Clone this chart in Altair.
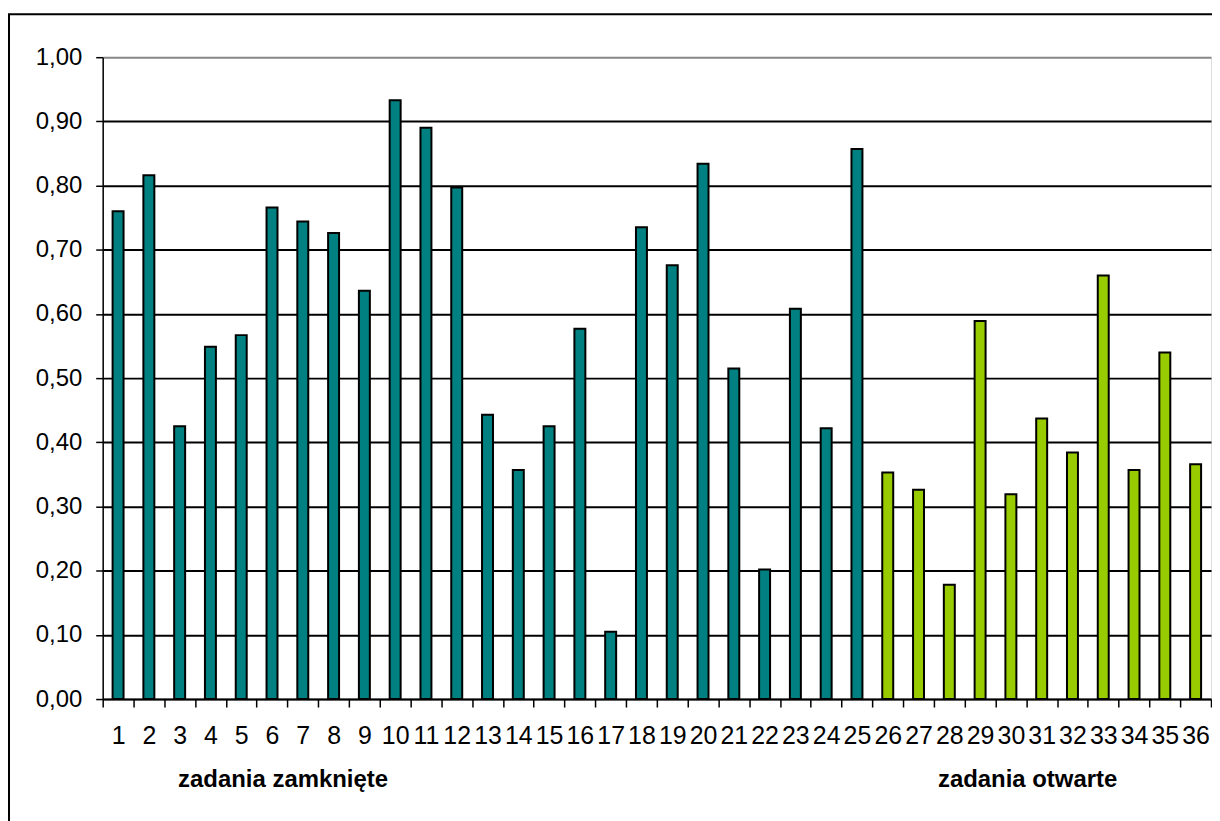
import altair as alt
import pandas as pd

# --- data ---
zadania = [str(i) for i in range(1, 37)]
wartosci = [0.760, 0.816, 0.425, 0.549, 0.567, 0.766, 0.744, 0.726, 0.636, 0.933,
            0.890, 0.797, 0.443, 0.357, 0.425, 0.577, 0.105, 0.735, 0.676, 0.834,
            0.515, 0.202, 0.608, 0.422, 0.857,
            0.353, 0.326, 0.178, 0.589, 0.319, 0.437, 0.384, 0.660, 0.357, 0.540, 0.366]
typy = ["zamknięte"] * 25 + ["otwarte"] * 11
y_ticks = [0.0, 0.1, 0.2, 0.3, 0.4, 0.5, 0.6, 0.7, 0.8, 0.9, 1.0]
grupy = ["zadania zamknięte", "zadania otwarte"]
grupy_x = [181, 928]  # label centres, px from plot-area left

df = pd.DataFrame({"zadanie": zadania, "wartosc": wartosci, "typ": typy})
df_labels = pd.DataFrame({"tekst": grupy, "px": grupy_x})

FONT = "Liberation Sans"
W, H = 1112, 644

x_enc = alt.X(
    "zadanie:N", sort=None, title=None,
    scale=alt.Scale(paddingInner=0, paddingOuter=0),
    axis=alt.Axis(
        labelAngle=0, labelFont=FONT, labelFontSize=25, labelColor="black",
        labelPadding=17, tickSize=8, tickColor="black", tickWidth=1.5,
        tickBand="extent", domainColor="black", domainWidth=1.5,
        grid=False, labelBaseline="top", labelOverlap=False,
    ),
)
y_enc = alt.Y(
    "wartosc:Q", title=None,
    scale=alt.Scale(domain=[0, 1], nice=False, zero=True),
    axis=alt.Axis(
        values=y_ticks,
        labelExpr="replace(format(datum.value, '.2f'), '.', ',')",
        labelFont=FONT, labelFontSize=24, labelColor="black", labelPadding=14,
        tickSize=7, tickColor="black", tickWidth=1.5,
        domainColor="black", domainWidth=1.5,
        grid=True,
        gridColor={"condition": {"test": "datum.value >= 1", "value": "#888888"}, "value": "black"},
        gridWidth=2,
    ),
)

bars = alt.Chart(df).mark_bar(size=11, stroke="black", strokeWidth=2).encode(
    x=x_enc,
    y=y_enc,
    color=alt.Color("typ:N",
                    scale=alt.Scale(domain=["zamknięte", "otwarte"], range=["#008080", "#99CC00"]),
                    legend=None),
)

labels = alt.Chart(df_labels).mark_text(
    font=FONT, fontSize=24, fontWeight="bold", color="black", baseline="middle", align="center"
).encode(
    x=alt.X("px:Q", scale=None),
    y=alt.value(H + 81),
    text="tekst:N",
)

border = alt.Chart(df_labels.head(1)).mark_rect(
    fill=None, stroke="black", strokeWidth=2
).encode(
    x=alt.value(-94), x2=alt.value(W + 20), y=alt.value(-43), y2=alt.value(H + 150)
)

chart = alt.layer(border, bars, labels).properties(
    width=W, height=H,
    autosize=alt.AutoSizeParams(type="none"),
    padding={"left": 95, "top": 48, "right": 1, "bottom": 125},
).configure_view(stroke="#888888", strokeWidth=1.5).configure(background="white")

chart.save("out.html", embed_options={"renderer": "svg", "actions": False})
